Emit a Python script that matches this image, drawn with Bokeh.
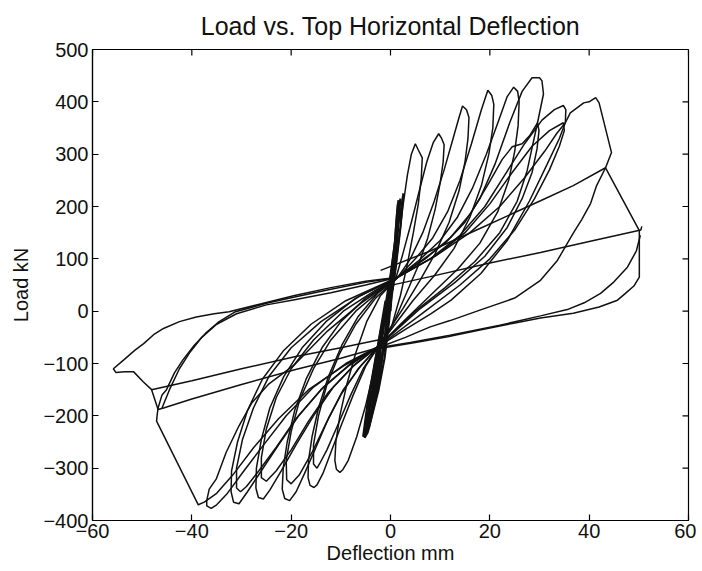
from bokeh.plotting import figure
from bokeh.models import FixedTicker, Range1d, Title
from bokeh.embed import file_html
from bokeh.resources import INLINE

# ---------------- axis ticks ----------------
x_ticks = [-60, -40, -20, 0, 20, 40, 60]
y_ticks = [-400, -300, -200, -100, 0, 100, 200, 300, 400, 500]

# ---------------- data: (deflection mm, load kN) branches ----------------
center_cycles = [(0, 0), (0.4, 60), (0.9, 130), (1.3, 185), (1.6, 212), (1.2, 160), (0.5, 70),
                 (-0.3, -20), (-1.2, -90), (-2.4, -150), (-3.6, -195), (-4.6, -232), (-5.2, -242),
                 (-4.3, -190), (-3.0, -120), (-1.6, -40), (-0.4, 40), (0.6, 110), (1.4, 170),
                 (2.0, 215), (1.6, 175), (0.8, 110), (-0.2, 20), (-1.4, -70), (-2.8, -150),
                 (-4.2, -215), (-5.5, -240), (-4.6, -175), (-3.0, -90), (-1.2, 0), (0.2, 80),
                 (1.2, 150), (1.8, 200), (1.4, 140), (0.4, 50), (-1.0, -50), (-2.6, -140),
                 (-4.0, -200), (-4.9, -236), (-3.8, -160), (-2.2, -60), (-0.6, 30), (0.8, 120),
                 (1.7, 190)]
center_cycles_2 = [(-0.2, 0), (0.6, 90), (1.1, 160), (1.5, 205), (1.0, 140), (0.0, 40),
                   (-1.0, -40), (-2.0, -110), (-3.2, -175), (-4.4, -225), (-3.6, -170),
                   (-2.4, -100), (-1.2, -20), (0.0, 60), (1.0, 140), (2.2, 200), (2.6, 225),
                   (2.0, 160), (1.0, 80), (-0.5, -20), (-2.0, -100), (-3.4, -170),
                   (-4.8, -225), (-5.0, -238), (-4.0, -150), (-2.6, -70), (-1.0, 20)]

pos_petal_1 = [(0.5, 40), (1.5, 120), (2.5, 200), (3.4, 260), (4.2, 300), (5.0, 320), (5.6, 308),
               (6.4, 293), (6.2, 255), (5.6, 205), (4.6, 150), (3.4, 90), (2.0, 30), (0.2, -30),
               (-2.5, -68)]
pos_petal_2 = [(1.0, 60), (2.5, 110), (4.2, 170), (5.8, 230), (7.3, 285), (8.6, 322), (9.7, 339),
               (10.3, 330), (10.8, 318), (10.6, 285), (10.0, 245), (9.0, 195), (7.5, 140),
               (5.5, 85), (3.0, 30), (0.5, -25), (-2.5, -68)]
pos_petal_3 = [(1.5, 65), (4.0, 100), (6.5, 150), (8.8, 210), (10.8, 270), (12.6, 330), (13.8, 370),
               (14.5, 392), (15.3, 385), (15.8, 370), (15.6, 330), (15.0, 285), (13.8, 230),
               (11.8, 170), (9.0, 110), (6.0, 60), (2.5, 5), (-2.5, -68)]
pos_petal_4 = [(1.5, 65), (5.0, 100), (8.5, 140), (11.5, 190), (14.0, 250), (16.3, 320), (18.3, 385),
               (19.6, 422), (20.4, 412), (20.8, 395), (20.6, 350), (19.8, 300), (18.3, 240),
               (16.0, 180), (12.8, 120), (9.0, 70), (4.5, 20), (-2.5, -68)]
pos_petal_5 = [(1.5, 65), (5.5, 95), (10.0, 135), (13.5, 180), (16.5, 235), (19.3, 300), (21.8, 365),
               (23.5, 410), (24.8, 428), (25.6, 420), (25.9, 400), (25.7, 355), (25.0, 305),
               (23.8, 250), (21.6, 190), (18.0, 130), (13.5, 80), (8.0, 30), (2.0, -25), (-2.5, -68)]
pos_petal_6 = [(1.5, 65), (6.0, 95), (11.0, 130), (15.0, 170), (18.0, 215), (21.0, 280), (24.0, 360),
               (26.5, 420), (28.5, 446), (30.0, 446), (30.5, 440), (30.8, 415), (29.6, 360),
               (28.5, 312), (27.5, 268), (25.5, 210), (22.0, 150), (17.0, 95), (11.0, 45),
               (5.0, 0), (-2.5, -68)]
pos_petal_6b = [(1.5, 65), (7.0, 100), (12.0, 140), (16.0, 185), (19.5, 240), (22.5, 290), (24.5, 314),
                (26.5, 320), (28.0, 335), (29.6, 360), (29.9, 345), (29.5, 310), (28.5, 265),
                (26.5, 215), (23.5, 160), (19.0, 105), (13.0, 55), (6.0, 5), (-2.5, -68)]
pos_petal_7 = [(1.5, 65), (8.0, 100), (14.0, 145), (19.0, 200), (23.0, 260), (27.0, 320), (30.5, 365),
               (33.0, 385), (34.8, 393), (35.3, 385), (35.2, 360), (34.0, 330), (31.5, 280),
               (28.0, 211), (23.5, 135), (18.2, 72), (12.2, 21), (8.1, -5), (3.0, -35), (-2.5, -68)]
pos_petal_7b = [(1.5, 65), (9.0, 105), (15.0, 150), (20.0, 205), (24.5, 265), (28.5, 315), (32.0, 345),
                (34.8, 360), (35.0, 345), (34.0, 315), (32.0, 270), (29.0, 215), (25.0, 155),
                (20.0, 100), (14.0, 50), (7.0, 0), (-2.5, -68)]
pos_petal_8 = [(1.5, 65), (9.0, 105), (16.0, 150), (22.0, 200), (27.0, 255), (31.0, 305), (33.5, 340),
               (35.2, 360), (36.2, 379), (38.9, 398), (40.0, 400), (41.3, 408), (42.0, 398),
               (44.5, 303), (43.3, 274), (41.5, 240), (40.3, 206), (38.5, 175), (36.8, 149),
               (33.6, 97), (30.2, 59), (25.0, 25), (18.0, 2), (12.0, -18), (8.0, -30), (3.0, -50),
               (-2.5, -70)]

neg_petal_1 = [(-2.5, -68), (-3.5, -120), (-5.0, -180), (-6.8, -240), (-8.5, -285), (-9.6, -303),
               (-10.2, -308), (-10.9, -302), (-11.2, -285), (-11.0, -250), (-10.2, -200),
               (-8.8, -140), (-7.0, -80), (-4.8, -20), (-2.0, 30), (1.5, 65)]
neg_petal_2 = [(-2.5, -68), (-5.0, -105), (-7.5, -160), (-9.8, -215), (-11.8, -265), (-13.6, -310),
               (-14.8, -332), (-15.4, -337), (-16.2, -333), (-16.6, -318), (-16.5, -285),
               (-15.8, -240), (-14.5, -185), (-12.5, -125), (-9.8, -65), (-6.5, -10), (-2.5, 35),
               (1.5, 65)]
neg_petal_2b = [(-2.5, -68), (-5.5, -110), (-8.0, -160), (-10.5, -215), (-12.8, -265), (-14.3, -292),
                (-14.8, -300), (-15.5, -292), (-15.5, -255), (-14.5, -200), (-12.8, -140),
                (-10.2, -80), (-7.0, -25), (-3.0, 25), (1.5, 65)]
neg_petal_3 = [(-2.5, -68), (-6.0, -105), (-9.5, -150), (-12.5, -205), (-15.0, -260), (-17.3, -310),
               (-19.0, -345), (-20.3, -362), (-21.3, -358), (-21.8, -340), (-21.6, -300),
               (-20.8, -250), (-19.3, -190), (-17.0, -130), (-13.8, -70), (-10.0, -20), (-5.0, 25),
               (1.5, 65)]
neg_petal_3b = [(-2.5, -68), (-6.5, -110), (-10.0, -160), (-13.0, -215), (-15.8, -270), (-18.3, -312),
                (-20.0, -330), (-20.9, -322), (-21.0, -285), (-20.0, -230), (-18.3, -170),
                (-15.5, -110), (-12.0, -55), (-7.0, 0), (-2.0, 40), (1.5, 65)]
neg_petal_4 = [(-2.5, -68), (-7.0, -100), (-11.5, -145), (-15.5, -200), (-19.0, -255), (-22.0, -305),
               (-24.3, -342), (-25.6, -359), (-26.6, -356), (-27.1, -338), (-27.0, -300),
               (-26.0, -245), (-24.3, -185), (-21.5, -125), (-17.8, -70), (-13.0, -20), (-7.0, 25),
               (1.5, 65)]
neg_petal_4b = [(-2.5, -68), (-7.5, -105), (-12.5, -155), (-16.5, -210), (-20.0, -265), (-23.0, -305),
                (-25.0, -325), (-26.0, -318), (-26.0, -280), (-25.0, -225), (-23.0, -165),
                (-20.0, -110), (-15.5, -55), (-9.5, 0), (-3.0, 40), (1.5, 65)]
neg_petal_5 = [(-2.5, -68), (-8.0, -100), (-13.5, -145), (-18.5, -200), (-22.5, -255), (-26.0, -305),
               (-28.8, -345), (-30.5, -368), (-31.6, -365), (-32.1, -345), (-32.0, -305),
               (-30.8, -250), (-28.8, -190), (-25.8, -130), (-21.5, -75), (-16.0, -25), (-9.0, 20),
               (1.5, 65)]
neg_petal_5b = [(-2.5, -68), (-8.5, -105), (-14.0, -150), (-19.0, -205), (-23.0, -260), (-26.5, -305),
                (-29.0, -335), (-30.2, -345), (-31.0, -338), (-31.0, -300), (-29.8, -245),
                (-27.6, -185), (-24.5, -125), (-20.0, -70), (-14.0, -20), (-6.0, 30), (1.5, 65)]
neg_petal_6 = [(-2.5, -68), (-9.0, -100), (-15.5, -145), (-21.0, -200), (-25.5, -255), (-29.5, -305),
               (-33.0, -350), (-35.0, -370), (-36.1, -377), (-37.0, -372), (-37.0, -362),
               (-36.5, -340), (-35.1, -321), (-33.1, -270), (-30.5, -219), (-27.9, -175),
               (-24.6, -140), (-19.3, -102), (-12.7, -38), (-6.0, 15), (1.5, 65)]
neg_petal_v = [(-2.5, -68), (-9.5, -105), (-16.5, -150), (-22.5, -205), (-27.5, -260), (-31.5, -310),
               (-35.0, -348), (-37.5, -365), (-38.7, -370), (-47.1, -210), (-47.0, -200),
               (-46.8, -185), (-46.0, -160), (-45.1, -150), (-43.5, -118), (-41.8, -93),
               (-39.5, -65), (-37.2, -42), (-34.5, -20), (-31.2, -1), (-25.0, 15), (-19.3, 27),
               (-12.0, 42), (-5.0, 55), (1.5, 65)]
unload_neg_b = [(-46.0, -185), (-44.5, -150), (-42.5, -110), (-40.5, -80), (-38.0, -50), (-35.0, -25),
                (-31.0, -5), (-25.0, 12), (-19.3, 22), (-12.0, 35), (-5.0, 50), (1.5, 65)]
reload_line_b = [(-2.5, -70), (-10.0, -90), (-19.3, -112), (-30.0, -140), (-40.0, -168),
                 (-45.7, -185), (-46.8, -188), (-48.1, -150)]
reload_line_a = [(-2.5, -55), (-10.0, -70), (-19.3, -87), (-30.0, -110), (-40.0, -133),
                 (-48.1, -150), (-49.8, -135), (-51.7, -116), (-53.5, -116), (-55.3, -117),
                 (-55.8, -110), (-53.7, -93), (-51.5, -75), (-49.7, -62), (-47.7, -45),
                 (-45.7, -33), (-42.5, -20), (-39.1, -11), (-35.5, -5), (-32.5, -1), (-26.0, 14),
                 (-19.3, 30), (-12.0, 45), (-5.0, 57), (1.5, 65)]
reload_line_r1 = [(-2.0, 78), (8.0, 115), (18.0, 158), (30.2, 211), (36.8, 240), (43.3, 274),
                  (50.1, 154), (50.1, 65), (49.0, 48), (47.3, 34), (45.7, 21), (42.0, 8),
                  (36.8, -4), (30.2, -13), (24.8, -23), (18.0, -36), (11.5, -49), (5.0, -60),
                  (-2.5, -72)]
unload_pos_a = [(50.3, 145), (49.5, 115), (47.7, 84), (45.0, 56), (42.3, 34), (39.0, 16), (35.6, 3),
                (30.2, -9), (22.0, -27), (12.0, -46), (4.0, -60), (-2.5, -70)]
reload_line_r2 = [(-2.0, 45), (8.0, 66), (20.0, 92), (30.2, 112), (40.0, 133), (50.4, 155),
                  (50.6, 162)]

branches = [pos_petal_1, pos_petal_2, pos_petal_3, pos_petal_4, pos_petal_5,
            pos_petal_6, pos_petal_6b, pos_petal_7, pos_petal_7b, pos_petal_8,
            neg_petal_1, neg_petal_2, neg_petal_2b, neg_petal_3, neg_petal_3b, neg_petal_4,
            neg_petal_4b, neg_petal_5, neg_petal_5b, neg_petal_6, neg_petal_v, unload_neg_b,
            reload_line_b, reload_line_a, reload_line_r1, unload_pos_a, reload_line_r2]
center_branches = [center_cycles, center_cycles_2]

FONT = "Liberation Sans"
INK = "#111111"
X0, X1 = x_ticks[0], x_ticks[-1]
Y0, Y1 = y_ticks[0], y_ticks[-1]

FRAME_W, FRAME_H = 596, 473
p = figure(width=696, height=566, output_backend="svg", toolbar_location=None,
           x_range=Range1d(X0, X1), y_range=Range1d(Y0, Y1),
           min_border_left=92, min_border_right=8, min_border_top=48, min_border_bottom=45,
           background_fill_color="white", border_fill_color="white")
p.title = Title(text="Load vs. Top Horizontal Deflection", align="center",
                text_font=FONT, text_font_size="25px", text_font_style="normal",
                text_color=INK, standoff=19)

p.multi_line([[pt[0] for pt in b] for b in branches],
             [[pt[1] for pt in b] for b in branches],
             line_color=INK, line_width=1.5)
p.multi_line([[pt[0] for pt in b] for b in center_branches],
             [[pt[1] for pt in b] for b in center_branches],
             line_color=INK, line_width=2.2)

# inward ticks on top and right edges (MATLAB-style box)
tick_px = 6
ty = tick_px * (Y1 - Y0) / FRAME_H
tx = tick_px * (X1 - X0) / FRAME_W
p.segment(x0=x_ticks, y0=[Y1] * len(x_ticks), x1=x_ticks, y1=[Y1 - ty] * len(x_ticks),
          line_color="black", line_width=1.2)
p.segment(x0=[X1] * len(y_ticks), y0=y_ticks, x1=[X1 - tx] * len(y_ticks), y1=y_ticks,
          line_color="black", line_width=1.2)

p.xgrid.visible = False
p.ygrid.visible = False
p.outline_line_color = "black"
p.outline_line_width = 1.2

for ax, ticks in ((p.xaxis[0], x_ticks), (p.yaxis[0], y_ticks)):
    ax.ticker = FixedTicker(ticks=ticks)
    ax.major_tick_in = tick_px
    ax.major_tick_out = 0
    ax.minor_tick_in = 0
    ax.minor_tick_out = 0
    ax.axis_line_color = "black"
    ax.axis_line_width = 1.2
    ax.major_tick_line_color = "black"
    ax.major_tick_line_width = 1.2
    ax.major_label_text_font = FONT
    ax.major_label_text_color = INK
    ax.major_label_text_font_size = "20px"
    ax.major_label_overrides = {t: str(t).replace("-", "\u2212") for t in ticks}
    ax.axis_label_text_font = FONT
    ax.axis_label_text_font_style = "normal"
    ax.axis_label_text_color = INK
    ax.axis_label_text_font_size = "20px"

p.xaxis.axis_label = "Deflection mm"
p.yaxis.axis_label = "Load kN"
p.xaxis.major_label_standoff = 3
p.yaxis.major_label_standoff = 4
p.xaxis.axis_label_standoff = 1
p.yaxis.axis_label_standoff = 8

open("out.html", "w").write(file_html(p, INLINE))
